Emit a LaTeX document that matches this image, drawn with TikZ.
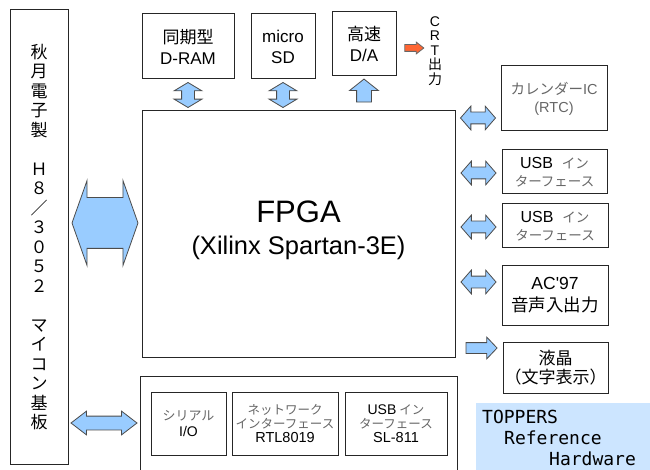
\documentclass[tikz,border=0pt]{standalone}
\usepackage{fontspec}
\setmainfont{Liberation Sans}
\newfontfamily\lat{Liberation Sans}
\newfontfamily\jp{Noto Sans CJK JP}
\newfontfamily\mono{DejaVu Sans Mono}
\usetikzlibrary{shapes.arrows}
\definecolor{arrowblue}{HTML}{99CCFF}
\definecolor{crtorange}{HTML}{FF6633}
\definecolor{toppersbg}{HTML}{CCE5FF}
\newcommand{\fs}[2]{\fontsize{#1}{#2}\selectfont}
\newcommand{\pale}[1]{{\color{black!60}#1}}

\begin{document}
\begin{tikzpicture}[x=1pt,y=-1pt,
  box/.style={draw=black!85,line width=1pt,inner sep=0pt,align=center},
  dblarrow/.style={double arrow,draw=black!70,fill=arrowblue,line width=0.8pt,inner xsep=0pt},
  sglarrow/.style={single arrow,draw=black!70,fill=arrowblue,line width=0.8pt,inner xsep=0pt}]
\useasboundingbox (0,0) rectangle (650,470);

% board and memory side
\node[box,minimum width=58,minimum height=454,font=\jp\fs{17}{19.5}] (board) at (39,237)
  {秋\\月\\電\\子\\製\\[19.5pt]Ｈ\\８\\／\\３\\０\\５\\２\\[19.5pt]マ\\イ\\コ\\ン\\基\\板};
\node[box,minimum width=92,minimum height=65,font=\jp\fs{17}{21}] (dram) at (188,46.5) {同期型\\\lat D-RAM};
\node[box,minimum width=64,minimum height=65,font=\lat\fs{17}{21}] (sd) at (283,46.5) {micro\\SD};
\node[box,minimum width=64,minimum height=64,font=\jp\fs{17}{21}] (dac) at (364,44) {高速\\\lat D/A};
\node[inner sep=0pt,align=center,font=\lat\fs{14}{14.5}] (crt) at (435,51) {C\\R\\T\\\jp 出\\\jp 力};

% FPGA
\node[box,minimum width=313,minimum height=246] (fpga) at (298.5,234)
  {\fs{31}{34}FPGA\\[12pt]\fs{25.5}{30}(Xilinx Spartan-3E)\rule[-12pt]{0pt}{0pt}};

% right side devices
\node[box,minimum width=106,minimum height=65,font=\jp\fs{14.5}{18},text=black!60] (rtc) at (554,98.5)
  {カレンダー\lat IC\\\lat (RTC)};
\node[box,minimum width=105,minimum height=44,font=\jp\fs{13.5}{18}] (usba) at (554.5,172)
  {{\lat\fs{16}{18}USB}\hspace{9pt}\pale{イン}\\\pale{ターフェース}};
\node[box,minimum width=106,minimum height=44,font=\jp\fs{13.5}{18}] (usbb) at (555,226)
  {{\lat\fs{16}{18}USB}\hspace{9pt}\pale{イン}\\\pale{ターフェース}};
\node[box,minimum width=106,minimum height=60,font=\jp\fs{17.5}{22}] (ac) at (555,295)
  {\lat AC\textquotesingle 97\\音声入出力};
\node[box,minimum width=105,minimum height=51,font=\jp\fs{17}{19}] (lcd) at (555.5,367.5)
  {液晶\\（文字表示）};

% logo
\fill[toppersbg] (476,403) rectangle (650,470);
\node[anchor=north west,inner sep=0pt,align=left,font=\mono\fs{18}{21}] (logo) at (482,410)
  {TOPPERS\\\hspace*{22pt}Reference\\\hspace*{67pt}Hardware};

% bottom I/O block
\node[box,minimum width=317,minimum height=110] (io) at (298.5,431) {};
\node[box,minimum width=75,minimum height=63,font=\jp\fs{13}{16}] (serial) at (188.5,423.5)
  {\pale{シリアル}\\\lat\fs{14}{16}I/O};
\node[box,minimum width=106,minimum height=63,font=\jp\fs{12.5}{14}] (net) at (285,423.5)
  {\pale{ネットワーク}\\\pale{インターフェース}\\\lat\fs{14.5}{14}RTL8019};
\node[box,minimum width=102,minimum height=63,font=\jp\fs{12.5}{14}] (usbh) at (396,423.5)
  {{\lat\fs{14}{14}USB}\hspace{3pt}\pale{イン}\\\pale{ターフェース}\\\lat\fs{14.5}{14}SL-811};

% block arrows
\path (board.east |- 0,223) -- (fpga.west |- 0,223)
  node[midway,dblarrow,inner ysep=25,minimum height=66,minimum width=84,double arrow head extend=17,double arrow tip angle=141] (a-fpga) {};
\path (board.east |- 0,423) -- (io.west |- 0,423)
  node[midway,dblarrow,inner ysep=6.5,minimum height=66,minimum width=23,double arrow head extend=5,double arrow tip angle=75] (a-io) {};
\path (dram.south) -- (dram.south |- fpga.north)
  node[midway,dblarrow,rotate=90,inner ysep=6,minimum height=25,minimum width=27,double arrow head extend=7.5,double arrow tip angle=118] (a-dram) {};
\path (sd.south) -- (sd.south |- fpga.north)
  node[midway,dblarrow,rotate=90,inner ysep=6,minimum height=25,minimum width=27,double arrow head extend=7.5,double arrow tip angle=118] (a-sd) {};
\path (dac.south) -- (dac.south |- fpga.north)
  node[midway,sglarrow,rotate=90,inner ysep=7,minimum height=23,minimum width=28,single arrow head extend=7,single arrow tip angle=103] (a-dac) {};
\path (dac.east |- 0,48) -- (crt.west |- 0,48)
  node[midway,sglarrow,draw=black!60,fill=crtorange,inner ysep=3,minimum height=19,minimum width=11,single arrow head extend=2.5,single arrow tip angle=76] (a-crt) {};
\foreach \dev/\y in {rtc/118,usba/173,usbb/227,ac/282}
  \path (fpga.east |- 0,\y) -- (\dev.west |- 0,\y)
    node[midway,dblarrow,inner ysep=5.5,minimum height=35,minimum width=23,double arrow head extend=6,double arrow tip angle=98] (a-\dev) {};
\path (fpga.east |- 0,348) -- (lcd.west |- 0,348)
  node[midway,sglarrow,inner ysep=5,minimum height=31,minimum width=21,single arrow head extend=5.5,single arrow tip angle=93] (a-lcd) {};
\end{tikzpicture}
\end{document}
